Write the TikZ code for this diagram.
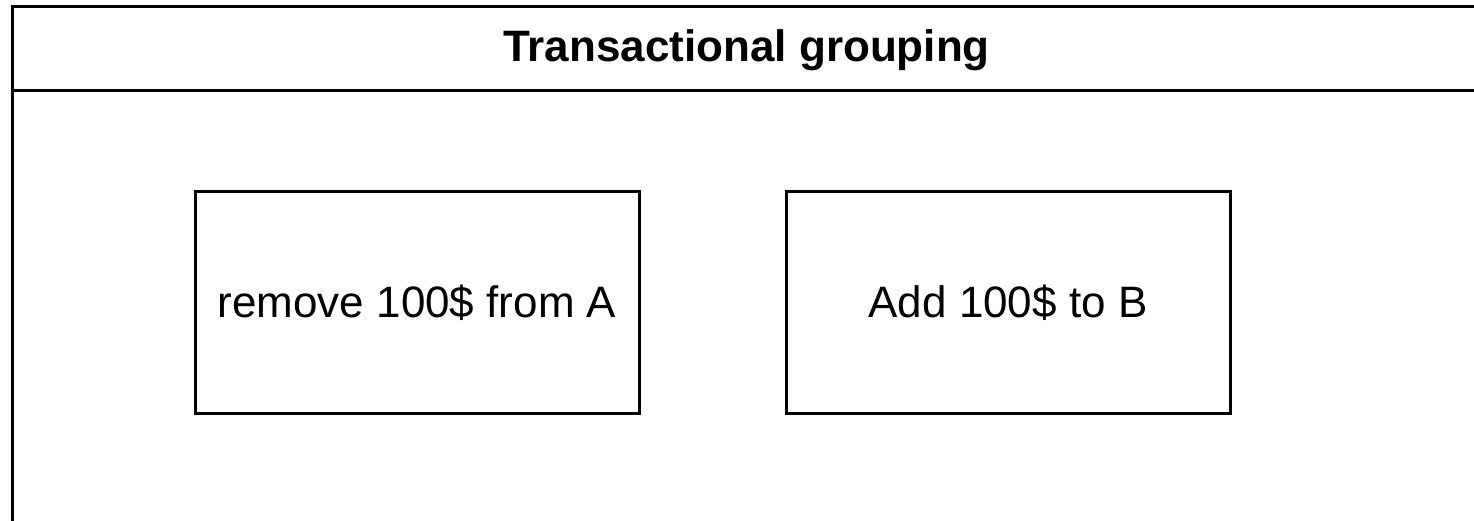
\documentclass[tikz,border=0pt]{standalone}
\usepackage{fontspec}
\setmainfont{Liberation Sans}
\usetikzlibrary{positioning}

\begin{document}
\begin{tikzpicture}[x=1pt, y=-1pt,
    lane/.style={line width=3pt},
    lane-title/.style={font=\fontsize{44}{52}\selectfont\bfseries},
    step-box/.style={draw, line width=3pt, outer sep=0pt, minimum width=444pt, minimum height=221pt,
      font=\fontsize{44}{52}\selectfont}
  ]
\useasboundingbox (0,0) rectangle (1474,521);

% Container lane (runs off the right and bottom edges)
\coordinate (lane-nw) at (12,7);
\coordinate (lane-ne) at (1482,7);
\coordinate (lane-sw) at (12,540);
\coordinate (head-w) at (12,91);
\coordinate (head-e) at (1482,91);
\draw[lane] (lane-sw) -- (lane-nw) -- (lane-ne) -- (1482,540);
\draw[lane] (head-w) -- (head-e);
\node[lane-title] (title) at (746.5,50) {Transactional grouping};

% The two steps of the transaction
\node[step-box] (remove) at (417,302.5) {remove 100\$ from A};
\node[step-box, right=147pt of remove] (add) {Add 100\$ to B};

\end{tikzpicture}
\end{document}
